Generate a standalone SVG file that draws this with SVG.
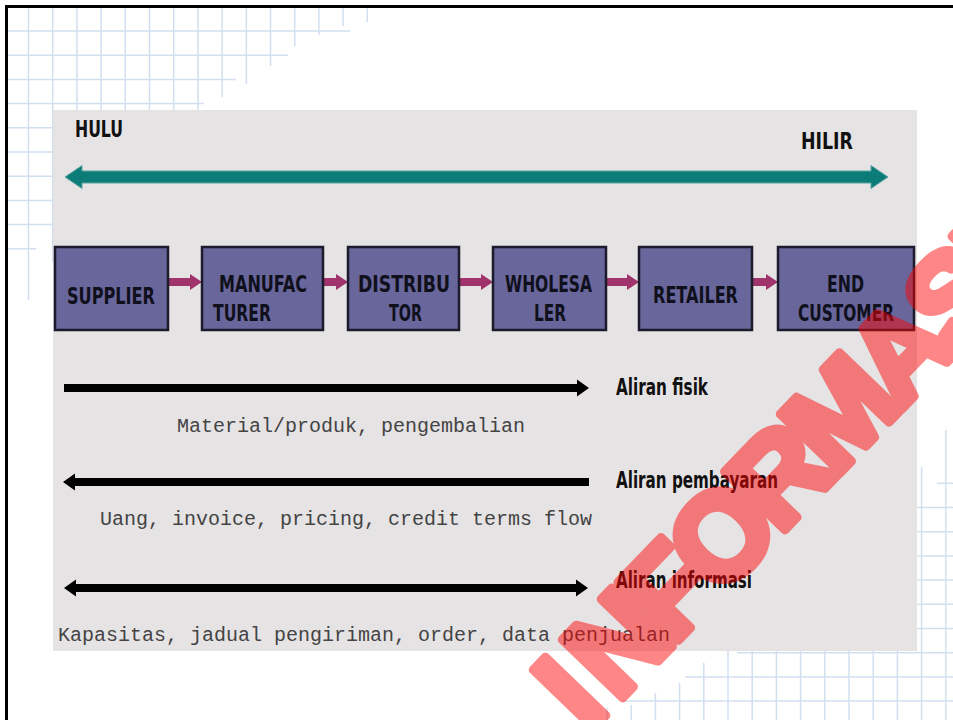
<svg xmlns="http://www.w3.org/2000/svg" width="953" height="720" viewBox="0 0 953 720">
<style>
.grid line{stroke:#d3dff0;stroke-width:1.5}
.box{fill:#68669a;stroke:#1b1b2b;stroke-width:2.5}
.bt{font-family:"DejaVu Sans Condensed","DejaVu Sans",sans-serif;font-weight:bold;font-size:23px;fill:#10101c}
.lbl{font-family:"DejaVu Sans Condensed","DejaVu Sans",sans-serif;font-weight:bold;font-size:23px;fill:#111}
.mono{font-family:"Liberation Mono",monospace;font-size:20px;fill:#444}
.mar{fill:#a0336c}
.blk{fill:#000}
</style>
<rect width="953" height="720" fill="#fff"/>
<g class="grid">
<line x1="28.5" y1="8" x2="28.5" y2="300"/><line x1="52.7" y1="8" x2="52.7" y2="262"/>
<line x1="76.9" y1="8" x2="76.9" y2="110"/><line x1="101.1" y1="8" x2="101.1" y2="110"/>
<line x1="125.3" y1="8" x2="125.3" y2="110"/><line x1="149.5" y1="8" x2="149.5" y2="110"/>
<line x1="173.7" y1="8" x2="173.7" y2="110"/><line x1="197.9" y1="8" x2="197.9" y2="110"/>
<line x1="222.1" y1="8" x2="222.1" y2="97"/><line x1="246.3" y1="8" x2="246.3" y2="84"/>
<line x1="270.5" y1="8" x2="270.5" y2="66"/><line x1="294.7" y1="8" x2="294.7" y2="46"/>
<line x1="318.9" y1="8" x2="318.9" y2="35"/><line x1="343.1" y1="8" x2="343.1" y2="26"/>
<line x1="367.3" y1="8" x2="367.3" y2="22"/>
<line x1="8" y1="31" x2="350" y2="31"/><line x1="8" y1="55.2" x2="288" y2="55.2"/>
<line x1="8" y1="79.4" x2="236" y2="79.4"/><line x1="8" y1="103.6" x2="204" y2="103.6"/>
<line x1="8" y1="127.8" x2="53" y2="127.8"/><line x1="8" y1="152" x2="53" y2="152"/>
<line x1="8" y1="176.2" x2="53" y2="176.2"/><line x1="8" y1="200.4" x2="53" y2="200.4"/>
<line x1="8" y1="224.6" x2="53" y2="224.6"/><line x1="8" y1="248.8" x2="36" y2="248.8"/>
<line x1="607" y1="708" x2="607" y2="720"/><line x1="631.2" y1="705" x2="631.2" y2="720"/>
<line x1="655.4" y1="693" x2="655.4" y2="720"/><line x1="679.6" y1="683" x2="679.6" y2="720"/>
<line x1="703.8" y1="663" x2="703.8" y2="720"/><line x1="728" y1="651" x2="728" y2="720"/>
<line x1="752.2" y1="651" x2="752.2" y2="720"/><line x1="776.4" y1="651" x2="776.4" y2="720"/>
<line x1="800.6" y1="651" x2="800.6" y2="720"/><line x1="824.8" y1="651" x2="824.8" y2="720"/>
<line x1="849" y1="651" x2="849" y2="720"/><line x1="873.2" y1="651" x2="873.2" y2="720"/>
<line x1="897.4" y1="651" x2="897.4" y2="720"/><line x1="921.6" y1="467" x2="921.6" y2="720"/>
<line x1="945.8" y1="430" x2="945.8" y2="720"/>
<line x1="937" y1="483.3" x2="953" y2="483.3"/><line x1="917" y1="507.5" x2="953" y2="507.5"/>
<line x1="917" y1="531.7" x2="953" y2="531.7"/><line x1="917" y1="555.9" x2="953" y2="555.9"/>
<line x1="917" y1="580.1" x2="953" y2="580.1"/><line x1="917" y1="604.3" x2="953" y2="604.3"/>
<line x1="917" y1="628.5" x2="953" y2="628.5"/><line x1="737" y1="652.7" x2="953" y2="652.7"/>
<line x1="685" y1="676.9" x2="953" y2="676.9"/><line x1="623" y1="701.1" x2="953" y2="701.1"/>
</g>
<path d="M6.5,720 V6.5 H953" fill="none" stroke="#000" stroke-width="3"/>
<rect x="53" y="110" width="864" height="541" fill="#e6e3e4"/>
<g id="hulu-hilir">
<text x="75" y="137" class="lbl" font-size="21" textLength="48" lengthAdjust="spacingAndGlyphs">HULU</text>
<text x="801" y="149" class="lbl" font-size="21" textLength="52" lengthAdjust="spacingAndGlyphs">HILIR</text>
<polygon points="65,177 82,165.5 82,171 871,171 871,165.5 888,177 871,188.5 871,183 82,183 82,188.5" fill="#0b7c77" stroke="#5aa5a1" stroke-width="1"/>
</g>
<g id="connectors">
<polygon class="mar" points="168,278 190,278 190,274 202,282 190,290 190,286 168,286"/>
<polygon class="mar" points="323,278 336,278 336,274 348,282 336,290 336,286 323,286"/>
<polygon class="mar" points="459,278 481,278 481,274 493,282 481,290 481,286 459,286"/>
<polygon class="mar" points="606,278 627,278 627,274 639,282 627,290 627,286 606,286"/>
<polygon class="mar" points="752,278 766,278 766,274 778,282 766,290 766,286 752,286"/>
</g>
<g id="supplier"><rect class="box" x="55" y="247" width="113" height="83"/>
<text class="bt" x="67" y="304" textLength="88" lengthAdjust="spacingAndGlyphs">SUPPLIER</text></g>
<g id="manufacturer"><rect class="box" x="202" y="247" width="121" height="83"/>
<text class="bt" x="219" y="292" textLength="88" lengthAdjust="spacingAndGlyphs">MANUFAC</text>
<text class="bt" x="213" y="321" textLength="58" lengthAdjust="spacingAndGlyphs">TURER</text></g>
<g id="distributor"><rect class="box" x="348" y="247" width="111" height="83"/>
<text class="bt" x="358" y="292" textLength="92" lengthAdjust="spacingAndGlyphs">DISTRIBU</text>
<text class="bt" x="389" y="321" textLength="33" lengthAdjust="spacingAndGlyphs">TOR</text></g>
<g id="wholesaler"><rect class="box" x="493" y="247" width="113" height="83"/>
<text class="bt" x="505" y="292" textLength="87" lengthAdjust="spacingAndGlyphs">WHOLESA</text>
<text class="bt" x="534" y="321" textLength="32" lengthAdjust="spacingAndGlyphs">LER</text></g>
<g id="retailer"><rect class="box" x="639" y="247" width="113" height="83"/>
<text class="bt" x="653" y="303" textLength="85" lengthAdjust="spacingAndGlyphs">RETAILER</text></g>
<g id="end-customer"><rect class="box" x="778" y="247" width="136" height="83"/>
<text class="bt" x="827" y="292" textLength="37" lengthAdjust="spacingAndGlyphs">END</text>
<text class="bt" x="798" y="321" textLength="96" lengthAdjust="spacingAndGlyphs">CUSTOMER</text></g>
<g id="flows">
<polygon class="blk" points="64,384 577,384 577,379.5 589,388 577,396.5 577,392 64,392"/>
<polygon class="blk" points="63,482 75,473.5 75,478 589,478 589,486 75,486 75,490.5"/>
<polygon class="blk" points="64,588 76,579.5 76,584 576,584 576,579.5 588,588 576,596.5 576,592 76,592 76,596.5"/>
<text class="lbl" x="616" y="395" textLength="92" lengthAdjust="spacingAndGlyphs">Aliran fisik</text>
<text class="lbl" x="616" y="488" textLength="162" lengthAdjust="spacingAndGlyphs">Aliran pembayaran</text>
<text class="lbl" x="616" y="588" textLength="136" lengthAdjust="spacingAndGlyphs">Aliran informasi</text>
<text class="mono" x="177" y="432">Material/produk, pengembalian</text>
<text class="mono" x="100" y="525">Uang, invoice, pricing, credit terms flow</text>
<text class="mono" x="58" y="641">Kapasitas, jadual pengiriman, order, data penjualan</text>
</g>
<g id="watermark" opacity="0.47">
<text transform="translate(588,734) rotate(-46)" x="0" y="0" font-family="Liberation Sans, Arial, sans-serif" font-weight="bold" font-size="122" letter-spacing="-8" fill="#ff0000" stroke="#ff0000" stroke-width="9" stroke-linejoin="round">I<tspan dx="16">NFORMASI</tspan></text>
</g>
</svg>
